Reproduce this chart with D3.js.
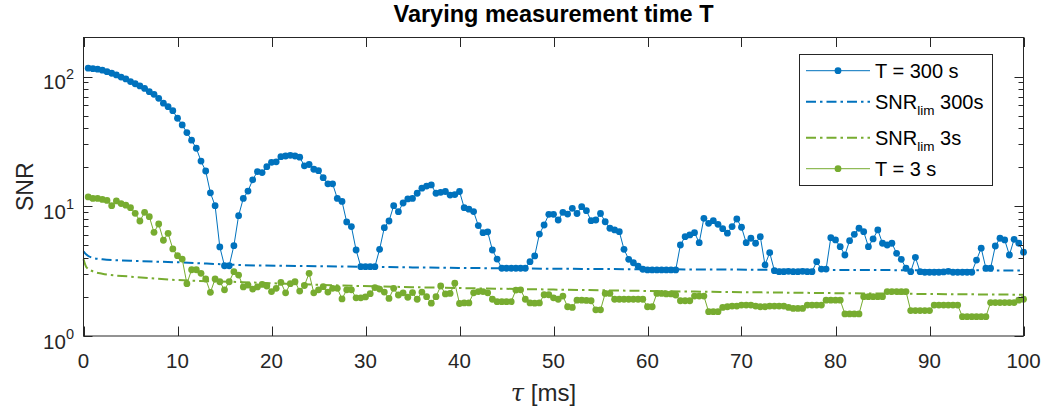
<!DOCTYPE html>
<html>
<head>
<meta charset="utf-8">
<script src="https://cdn.jsdelivr.net/npm/d3@7"></script>
<style>
  html, body { margin: 0; padding: 0; background: #fff; }
  svg { display: block; font-family: "Liberation Sans", Arial, Helvetica, sans-serif; }
</style>
</head>
<body>
<div id="chart"></div>
<script>
// sampling grid of tau [ms]
const tauStep = 0.5;
const tau = d3.range(1, 201).map(i => i * tauStep);

// T = 300 s, SNR per tau
const snr300 = [
  116, 115, 114, 112, 109, 106, 103, 99, 95.8, 91.4,
  88, 84.7, 81, 76.5, 73, 68, 62.3, 58.6, 54.6, 47.7,
  42.4, 37, 32.3, 28, 22.3, 18.7, 12.7, 10.1, 4.86,
  3.48, 3.48, 4.97, 8.47, 11.5, 13.1,
  16.0, 18.5, 18.2, 20.2, 21.8, 22, 24.1, 24.4, 24.7, 24.4, 23.9, 20.5, 21,
  19.3, 18.8, 16.6, 14.9, 14.9, 11.5, 10.9, 7.57, 6.97, 4.6, 3.42,
  3.42, 3.42, 3.42,
  4.66, 6.84, 7.7, 10.1, 9.08, 10.6,
  11.4, 11.5, 12.6, 13.8, 14.3, 14.6, 12.6, 12.8, 13.0, 12.2, 12.3, 13.0,
  9.75, 9.5, 9.1, 7.1, 6.26, 6.35, 4.6, 3.92, 3.33,
  3.33, 3.33, 3.33, 3.33, 3.33,
  3.74, 4.14, 6.11, 7.17, 8.67, 8.67, 7.84, 8.98,
  8.7, 9.65, 8.8, 9.93, 9.25, 7.74, 7.84, 8.8, 7.6, 6.77, 6.57, 6.37,
  4.66, 3.9, 3.67, 3.46, 3.27,
  3.23, 3.23, 3.23, 3.23, 3.23, 3.23, 3.23,
  5.03, 5.83, 6.01, 6.26, 5.24, 8.08, 7.39, 7.74, 7.26, 6.72, 6.2,
  6.97, 7.98, 6.89, 5.24, 5.67, 5.19, 5.83, 3.53, 4.39, 3.19,
  3.13, 3.13, 3.15, 3.13, 3.13, 3.15, 3.13, 3.13,
  3.74, 3.28, 3.28,
  5.73, 5.5, 4.88, 4.21, 5.43, 6.08, 6.77, 6.37, 4.88, 5.6,
  6.57, 5.19, 5.03, 5.19, 4.34, 3.9, 3.33, 3.13, 4.04, 3.13,
  3.1, 3.1, 3.1, 3.1, 3.12, 3.15, 3.1, 3.1, 3.1, 3.1, 3.1,
  3.85, 4.75, 3.33, 3.33, 4.94, 5.67, 5.5, 4.21, 5.56, 5.19, 4.42
];

// T = 3 s, SNR per tau
const snr3 = [
  11.8, 11.5, 11.5, 11.3, 11.1, 10.1, 11.0, 10.5, 10.2, 9.75,
  8.83, 7.7, 8.98, 8.31, 6.3, 7.3, 5.47, 6.19, 4.69, 4.16,
  3.92, 2.53, 3.24, 3.24, 3.04, 2.75, 2.17, 2.75, 2.62, 2.27,
  2.62, 3.13, 2.95, 2.39, 2.47, 2.3, 2.39, 2.5, 2.43, 2.2,
  2.33, 2.59, 2.15, 2.53, 2.62, 2.22, 2.45, 3.04, 2.15, 2.27,
  2.4, 2.18, 2.33, 2.33, 1.93, 2.27, 2.27, 1.97, 1.97, 2.0,
  2.12, 2.36, 2.3, 2.18, 1.95, 2.33, 2.07, 2.15,
  1.99, 2.16, 1.92, 2.18, 2.01, 1.79, 2.01, 2.43, 2.11, 2.13,
  2.55, 1.78, 1.8, 1.8, 2.15, 2.2, 2.2, 2.15, 1.92, 1.84,
  1.84, 1.84, 1.84, 2.26, 2.27, 1.92, 1.8, 1.79, 1.8, 2.08,
  2.08, 1.97, 1.92, 2.03, 1.68,
  1.66, 1.89, 1.89, 1.88, 1.87, 1.59, 1.59, 2.13, 2.13,
  1.92, 1.92, 1.92, 1.92, 1.92, 1.92, 1.92,
  1.68, 1.68, 2.13, 2.13, 2.11, 2.11, 2.07, 1.87, 1.87, 1.87,
  2.03, 2.03, 2.03, 1.54, 1.54, 1.54, 1.66, 1.68,
  1.70, 1.70, 1.73, 1.73, 1.73, 1.70, 1.68, 1.68, 1.70, 1.70,
  1.70, 1.70, 1.66, 1.63, 1.63, 1.63, 1.73, 1.73, 1.73, 1.73,
  1.89, 1.89, 1.89, 1.89, 1.48, 1.48, 1.48, 1.48, 2.01, 2.01,
  2.01, 2.01,
  2.01, 2.2, 2.2, 2.2, 2.2, 2.2, 1.57, 1.57, 1.57, 1.57,
  1.57, 1.73, 1.73, 1.73, 1.73, 1.73, 1.73, 1.41, 1.41, 1.41,
  1.41, 1.41, 1.41, 1.81, 1.81, 1.81, 1.81, 1.81, 1.81, 1.89,
  1.92
];

// limit curves, [tau, SNR]
const limTau = [0, 0.3, 1, 2, 5, 10, 17, 25, 35, 50, 65, 80, 100];
const lim300 = [4.5, 4.25, 4.0, 3.9, 3.8, 3.7, 3.52, 3.45, 3.38, 3.3, 3.26, 3.23, 3.2];
const lim3 = [3.9, 3.4, 3.15, 3.02, 2.87, 2.7, 2.6, 2.48, 2.38, 2.28, 2.2, 2.14, 2.08];

const xTicks = [0, 10, 20, 30, 40, 50, 60, 70, 80, 90, 100];
const yMajor = [1, 10, 100];
const yMinor = [2, 3, 4, 5, 6, 7, 8, 9, 20, 30, 40, 50, 60, 70, 80, 90];

const legendItems = [
  {label: "T = 300 s", sub: null, tail: null, color: "#0072BD", kind: "marker"},
  {label: "SNR", sub: "lim", tail: " 300s", color: "#0072BD", kind: "dashdot"},
  {label: "SNR", sub: "lim", tail: " 3s", color: "#77AC30", kind: "dashdot"},
  {label: "T = 3 s", sub: null, tail: null, color: "#77AC30", kind: "marker"}
];

const W = 1045, H = 409;
const box = {left: 83.5, right: 1023.5, top: 37.5, bottom: 336};
const axisColor = "#262626";
const dashDot = "10,4,2.5,4";

const svg = d3.select("#chart").append("svg")
  .attr("width", W).attr("height", H);

const x = d3.scaleLinear().domain([0, 100]).range([box.left, box.right]);
const y = d3.scaleLog().domain([1, 200]).range([box.bottom, box.top]);

const line = d3.line().x(d => x(d[0])).y(d => y(d[1]));
const smooth = d3.line().x(d => x(d[0])).y(d => y(d[1])).curve(d3.curveMonotoneX);

const plot = svg.append("g");

function drawSeries(values, color) {
  const pts = tau.map((t, i) => [t, values[i]]);
  plot.append("path")
    .attr("d", line(pts))
    .attr("fill", "none")
    .attr("stroke", color)
    .attr("stroke-width", 1);
  plot.append("g").selectAll("circle")
    .data(pts).join("circle")
    .attr("cx", d => x(d[0]))
    .attr("cy", d => y(d[1]))
    .attr("r", 3.4)
    .attr("fill", color);
}

function drawLimit(values, color) {
  const pts = limTau.map((t, i) => [t, values[i]]);
  plot.append("path")
    .attr("d", smooth(pts))
    .attr("fill", "none")
    .attr("stroke", color)
    .attr("stroke-width", 2)
    .attr("stroke-dasharray", dashDot);
}

drawSeries(snr300, "#0072BD");
drawLimit(lim300, "#0072BD");
drawLimit(lim3, "#77AC30");
drawSeries(snr3, "#77AC30");

// axes box
const axes = svg.append("g").attr("stroke", axisColor).attr("stroke-width", 1).attr("fill", "none");
axes.append("rect")
  .attr("x", box.left).attr("y", box.top)
  .attr("width", box.right - box.left).attr("height", box.bottom - box.top);

// x ticks (bottom and top, inward)
xTicks.forEach(t => {
  const px = Math.round(x(t)) + 0.5;
  axes.append("line").attr("x1", px).attr("x2", px).attr("y1", box.bottom).attr("y2", box.bottom - 9.5);
  axes.append("line").attr("x1", px).attr("x2", px).attr("y1", box.top).attr("y2", box.top + 9.5);
});

// y ticks (left and right, inward)
yMajor.forEach(v => {
  const py = Math.round(y(v)) + 0.5;
  axes.append("line").attr("x1", box.left).attr("x2", box.left + 9).attr("y1", py).attr("y2", py);
  axes.append("line").attr("x1", box.right).attr("x2", box.right - 9).attr("y1", py).attr("y2", py);
});
yMinor.forEach(v => {
  const py = Math.round(y(v)) + 0.5;
  axes.append("line").attr("x1", box.left).attr("x2", box.left + 5).attr("y1", py).attr("y2", py);
  axes.append("line").attr("x1", box.right).attr("x2", box.right - 5).attr("y1", py).attr("y2", py);
});

// tick labels
const labels = svg.append("g").attr("fill", axisColor).attr("font-size", 20.5);
labels.selectAll("text.xt")
  .data(xTicks).join("text")
  .attr("class", "xt")
  .attr("x", d => x(d))
  .attr("y", 368)
  .attr("text-anchor", "middle")
  .text(d => d);

yMajor.forEach(v => {
  const t = labels.append("text")
    .attr("x", 74)
    .attr("y", y(v) + 12.5)
    .attr("text-anchor", "end");
  t.append("tspan").text("10");
  t.append("tspan").attr("font-size", 14.5).attr("dy", -10).text(Math.round(Math.log10(v)));
});

// title and axis labels
svg.append("text")
  .attr("x", (box.left + box.right) / 2)
  .attr("y", 22)
  .attr("text-anchor", "middle")
  .attr("font-size", 23.5)
  .attr("font-weight", "bold")
  .attr("fill", "#000")
  .text("Varying measurement time T");

svg.append("text")
  .attr("transform", "translate(33," + (box.top + box.bottom) / 2 + ") rotate(-90)")
  .attr("text-anchor", "middle")
  .attr("font-size", 23)
  .attr("fill", axisColor)
  .text("SNR");

const xl = svg.append("text")
  .attr("x", (box.left + box.right) / 2 - 10)
  .attr("y", 401)
  .attr("text-anchor", "middle")
  .attr("font-size", 24)
  .attr("fill", axisColor);
xl.append("tspan").attr("font-style", "italic").attr("font-family", "DejaVu Serif, serif").text("τ");
xl.append("tspan").text(" [ms]");

// legend
const leg = svg.append("g");
leg.append("rect")
  .attr("x", 799.5).attr("y", 54.5)
  .attr("width", 193).attr("height", 131)
  .attr("fill", "#fff")
  .attr("stroke", axisColor)
  .attr("stroke-width", 1);

const legY = [70.7, 101.7, 137.7, 168.7];
legendItems.forEach((it, i) => {
  const g = leg.append("g").attr("transform", "translate(0," + legY[i] + ")");
  const ln = g.append("line")
    .attr("x1", 806).attr("x2", 870).attr("y1", 0).attr("y2", 0)
    .attr("stroke", it.color);
  if (it.kind === "marker") {
    ln.attr("stroke-width", 1);
    g.append("circle").attr("cx", 838).attr("cy", 0).attr("r", 3.4).attr("fill", it.color);
  } else {
    ln.attr("stroke-width", 2).attr("stroke-dasharray", dashDot);
  }
  const t = g.append("text")
    .attr("x", 875)
    .attr("y", 7)
    .attr("font-size", 20)
    .attr("fill", "#000");
  t.append("tspan").text(it.label);
  if (it.sub) {
    t.append("tspan").attr("font-size", 13.5).attr("dy", 6).text(it.sub);
    t.append("tspan").attr("dy", -6).text(it.tail);
  }
});
</script>
</body>
</html>
